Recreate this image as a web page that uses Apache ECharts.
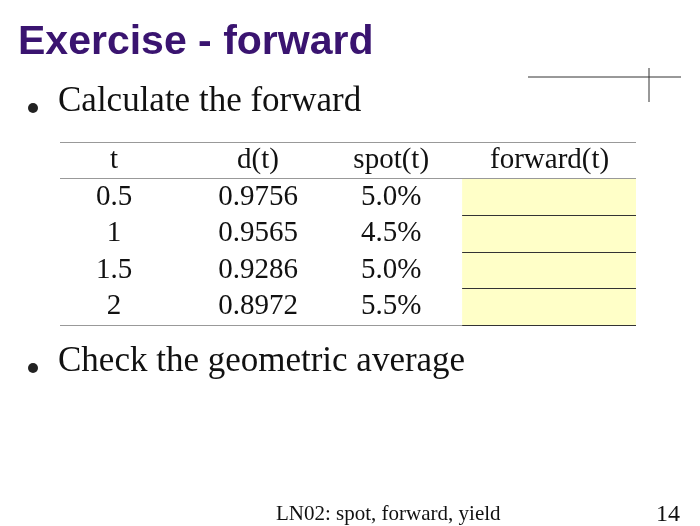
<!DOCTYPE html>
<html><head><meta charset="utf-8">
<script src="https://cdn.jsdelivr.net/npm/echarts@6/dist/echarts.min.js"></script>
<style>html,body{margin:0;padding:0;background:#fff}#c{width:700px;height:526px}</style>
</head><body><div id="c"></div>
<script>
const headers = ["t", "d(t)", "spot(t)", "forward(t)"];
const tValues = ["0.5", "1", "1.5", "2"];
const dValues = ["0.9756", "0.9565", "0.9286", "0.8972"];
const spotValues = ["5.0%", "4.5%", "5.0%", "5.5%"];
const forwardValues = ["", "", "", ""];
const colPos = [1.5, 5.5, 9.2, 13.6];

const cells = [];
headers.forEach((h, i) => cells.push({value: [colPos[i], 0.5], label: h}));
[tValues, dValues, spotValues, forwardValues].forEach((col, i) =>
  col.forEach((v, r) => cells.push({value: [colPos[i], r + 1.5], label: v})));

const serif = '"Liberation Serif", "DejaVu Serif", serif';
const solid = c => ({color: c, width: 1, type: 'solid', opacity: 1});
const chart = echarts.init(document.getElementById('c'));
chart.setOption({
  animation: false,
  grid: {left: 60, right: 64, top: 142, bottom: 201},
  xAxis: {type: 'value', min: 0, max: 16, show: false},
  yAxis: {type: 'value', min: 0, max: 5, inverse: true, show: false},
  graphic: [
    {type: 'text', left: 18, top: 22, style: {text: 'Exercise - forward', font: 'bold 41px "Liberation Sans", Arial, sans-serif', fill: '#3a1470'}},
    {type: 'circle', shape: {cx: 33, cy: 108, r: 5}, style: {fill: '#222'}},
    {type: 'text', left: 58, top: 84, style: {text: 'Calculate the forward', font: '35px ' + serif, fill: '#111'}},
    {type: 'circle', shape: {cx: 33, cy: 368, r: 5}, style: {fill: '#222'}},
    {type: 'text', left: 58, top: 344, style: {text: 'Check the geometric average', font: '35px ' + serif, fill: '#111'}},
    {type: 'text', left: 276, top: 504, style: {text: 'LN02: spot, forward, yield', font: '21px ' + serif, fill: '#111'}},
    {type: 'text', left: 656, top: 503, style: {text: '14', font: '24px ' + serif, fill: '#111'}},
    {type: 'line', shape: {x1: 528, y1: 77, x2: 681, y2: 77}, style: {stroke: '#333', lineWidth: 1}},
    {type: 'line', shape: {x1: 649, y1: 68, x2: 649, y2: 102}, style: {stroke: '#333', lineWidth: 1}}
  ],
  series: [{
    type: 'scatter',
    symbolSize: 0,
    itemStyle: {opacity: 1},
    data: cells,
    label: {show: true, position: 'inside', formatter: p => p.data.label,
      fontFamily: serif, fontSize: 29, color: '#111', opacity: 1},
    z: 5,
    markArea: {
      silent: true,
      itemStyle: {color: '#ffffc8'},
      data: [[{coord: [11.17, 1]}, {coord: [16, 5]}]]
    },
    markLine: {
      silent: true, symbol: 'none', label: {show: false},
      lineStyle: {type: 'solid'},
      data: [
        [{coord: [0, 0], lineStyle: solid('#999')}, {coord: [16, 0]}],
        [{coord: [0, 1], lineStyle: solid('#999')}, {coord: [16, 1]}],
        [{coord: [0, 5], lineStyle: solid('#999')}, {coord: [11.17, 5]}],
        [{coord: [11.17, 2], lineStyle: solid('#333')}, {coord: [16, 2]}],
        [{coord: [11.17, 3], lineStyle: solid('#333')}, {coord: [16, 3]}],
        [{coord: [11.17, 4], lineStyle: solid('#333')}, {coord: [16, 4]}],
        [{coord: [11.17, 5], lineStyle: solid('#333')}, {coord: [16, 5]}]
      ]
    }
  }]
});
</script></body></html>
